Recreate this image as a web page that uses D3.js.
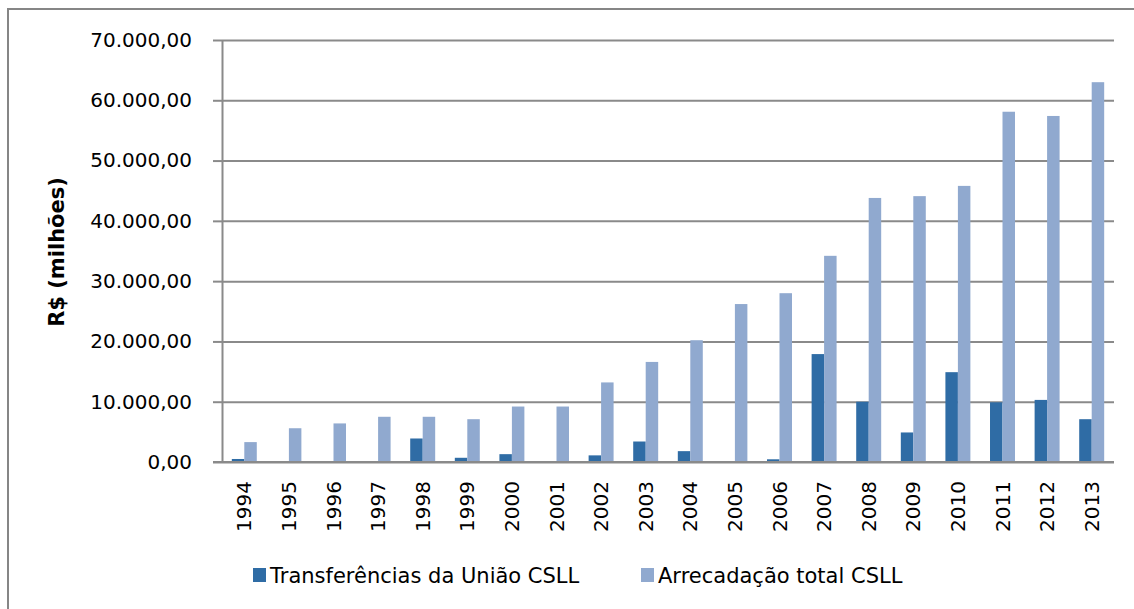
<!DOCTYPE html>
<html>
<head>
<meta charset="utf-8">
<script src="https://cdn.jsdelivr.net/npm/d3@7"></script>
<style>
  body { margin: 0; background: #fff; }
  text { font-family: "DejaVu Sans", sans-serif; fill: #000; }
</style>
</head>
<body>
<script>
// Chart data (R$ milhões)
var years = ["1994", "1995", "1996", "1997", "1998", "1999", "2000", "2001", "2002", "2003",
             "2004", "2005", "2006", "2007", "2008", "2009", "2010", "2011", "2012", "2013"]
var transferencias = [500, 0, 0, 0, 3900, 700, 1300, 0, 1100, 3400,
                      1800, 0, 450, 17900, 10000, 4900, 14900, 9900, 10300, 7100]
var arrecadacao = [3300, 5600, 6400, 7500, 7500, 7100, 9200, 9200, 13200, 16600,
                   20200, 26200, 28000, 34200, 43800, 44100, 45800, 58100, 57400, 63000]
var yTicks = [0, 10000, 20000, 30000, 40000, 50000, 60000, 70000]
var seriesNames = ["Transferências da União CSLL", "Arrecadação total CSLL"]
var colors = ["#2f6ca5", "#90a9cf"]

function main() {
    var width = 1134
    var height = 609
    var left = 222, right = 1114, top = 40, bottom = 462

    var svg = d3.select("body").append("svg")
        .attr("width", width)
        .attr("height", height)

    // Outer frame
    svg.append("rect")
        .attr("x", 8).attr("y", 9)
        .attr("width", width + 10).attr("height", height + 10)
        .attr("fill", "none")
        .attr("stroke", "#868686")
        .attr("stroke-width", 2)

    // Brazilian number format
    var br = d3.formatLocale({decimal: ",", thousands: ".", grouping: [3], currency: ["R$", ""]})
    var fmt = br.format(",.2f")

    // Scales
    var x = d3.scaleBand().domain(years).range([left, right]).paddingInner(0.44).paddingOuter(0.22)
    var xs = d3.scaleBand().domain([0, 1]).range([0, x.bandwidth()])
    var y = d3.scaleLinear().domain([0, 70000]).range([bottom, top])

    // Gridlines
    svg.append("g")
        .attr("transform", `translate(${left},0)`)
        .call(d3.axisLeft(y).tickValues(yTicks).tickSize(-(right - left)).tickFormat(""))
        .call(g => g.select(".domain").remove())
        .selectAll("line")
        .attr("stroke", "#8a8a8a")
        .attr("stroke-width", 2)

    // Y axis with labels
    var yAxis = svg.append("g")
        .attr("transform", `translate(${left},0)`)
        .call(d3.axisLeft(y).tickValues(yTicks).tickSize(9).tickSizeOuter(0).tickPadding(21).tickFormat(fmt))
    yAxis.select(".domain").attr("stroke", "#8a8a8a").attr("stroke-width", 2)
    yAxis.selectAll("line").attr("stroke", "#8a8a8a").attr("stroke-width", 2)
    yAxis.selectAll("text").style("font-size", "20px").style("font-family", "DejaVu Sans")

    // Bars
    var groups = svg.selectAll("g.year")
        .data(years)
        .enter().append("g")
        .attr("class", "year")
        .attr("transform", d => `translate(${x(d)},0)`)

    groups.selectAll("rect")
        .data((d, i) => [transferencias[i], arrecadacao[i]])
        .enter().append("rect")
        .attr("x", (d, j) => xs(j))
        .attr("y", d => y(d))
        .attr("width", xs.bandwidth())
        .attr("height", d => bottom - y(d))
        .attr("fill", (d, j) => colors[j])

    // X axis
    var xAxis = svg.append("g")
        .attr("transform", `translate(0,${bottom})`)
        .call(d3.axisBottom(x).tickSize(0).tickSizeOuter(0))
    xAxis.select(".domain").attr("stroke", "#8a8a8a").attr("stroke-width", 2)
        .attr("d", `M${left - 9},0H${right}`)
    xAxis.selectAll("text")
        .attr("transform", "rotate(-90)")
        .attr("x", -19)
        .attr("y", 0)
        .attr("dy", "0.35em")
        .style("text-anchor", "end")
        .style("font-size", "20px")
        .style("font-family", "DejaVu Sans")

    // Y title
    svg.append("text")
        .attr("transform", "translate(57,252) rotate(-90)")
        .attr("dy", "0.35em")
        .attr("text-anchor", "middle")
        .style("font-size", "21px")
        .style("font-weight", "bold")
        .text("R$ (milhões)")

    // Legend
    var legendX = [253, 641]
    var legend = svg.selectAll("g.legend")
        .data(seriesNames)
        .enter().append("g")
        .attr("class", "legend")
        .attr("transform", (d, i) => `translate(${legendX[i]},575)`)
    legend.append("rect")
        .attr("x", 0).attr("y", -7)
        .attr("width", 13).attr("height", 14)
        .attr("fill", (d, i) => colors[i])
    legend.append("text")
        .attr("x", 17)
        .attr("dy", "0.36em")
        .style("font-size", "21px")
        .text(d => d)
}
main()
</script>
</body>
</html>
